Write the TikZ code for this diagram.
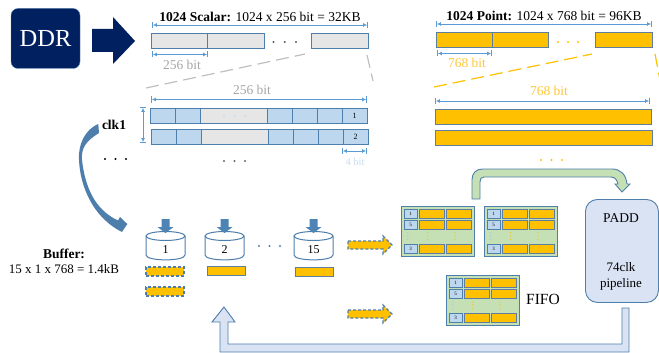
\documentclass[tikz,border=0pt]{standalone}
\usepackage{fontspec}
\setmainfont{Liberation Serif}
\usetikzlibrary{arrows.meta}
\definecolor{ddrblue}{HTML}{002060}
\definecolor{lineblue}{HTML}{4E7EAC}
\definecolor{dimblue}{HTML}{5B9BD5}
\definecolor{cellblue}{HTML}{BDD7EE}
\definecolor{cellgrey}{HTML}{E7E6E6}
\definecolor{pointorange}{HTML}{FFC000}
\definecolor{textorange}{HTML}{FFC73A}
\definecolor{textgrey}{HTML}{A6A6A6}
\definecolor{dashgrey}{HTML}{BFBFBF}
\definecolor{textblue}{HTML}{C9DCF0}
\definecolor{paddblue}{HTML}{DAE3F3}
\definecolor{fifogreen}{HTML}{C5E0B4}
\tikzset{
  cell/.style={draw=lineblue,line width=1pt,inner sep=0pt,outer sep=0pt,anchor=north west},
  greycell/.style={cell,fill=cellgrey},
  bluecell/.style={cell,fill=cellblue},
  orangecell/.style={cell,fill=pointorange,draw=lineblue!70!gray},
  dashcell/.style={cell,fill=pointorange,densely dashed,line width=1.1pt},
  dimline/.style={draw=dimblue,line width=0.9pt,{Bar[width=6pt].Latex[length=4pt,width=4pt]}-{Latex[length=4pt,width=4pt].Bar[width=6pt]}},
  blocklabel/.style={inner sep=0pt,font=\fontsize{13.5}{15}\selectfont},
  blockarrow/.style={draw=lineblue,line width=0.9pt,line join=miter},
  pics/fifoblock/.style={code={
    \node[cell,fill=fifogreen,minimum width=73pt,minimum height=50pt] (-box) at (0,0) {};
    \foreach \ro/\lab in {3/1,14/5,38/3}{
      \node[bluecell,minimum width=13pt,minimum height=9pt,font=\fontsize{5}{5}\selectfont] (-n\lab) at (3,\ro) {\lab};
      \node[orangecell,minimum width=25pt,minimum height=9pt] (-a\lab) at (18,\ro) {};
      \node[orangecell,minimum width=25pt,minimum height=9pt] (-b\lab) at (45,\ro) {};
    }
    \foreach \y in {27,30,33.5}{
      \fill[dimblue!60] (6.7,\y) circle (0.7);
      \fill[pointorange] (26.7,\y) circle (0.7);
      \fill[pointorange] (54,\y) circle (0.7);
    }
  }},
}
\begin{document}
\begin{tikzpicture}[x=1pt,y=-1pt]
\useasboundingbox (0,0) rectangle (659,353);
% source and big arrow
\node[draw=lineblue,fill=ddrblue,rounded corners=7pt,minimum width=69pt,minimum height=60pt,text=white,
  font=\fontsize{24.5}{26}\selectfont] (ddr) at (45.5,38.5) {DDR};
\fill[ddrblue] (92,29) -- (113,29) -- (113,17) -- (135,41) -- (113,64) -- (113,52) -- (92,52) -- cycle;
% scalar row
\node[blocklabel] (scalartitle) at (260,17) {\textbf{1024 Scalar:} 1024 x 256 bit = 32KB};
\node[greycell,minimum width=56pt,minimum height=15pt] (sa) at (151,34) {};
\node[greycell,minimum width=57pt,minimum height=15pt] (sb) at (207,34) {};
\node[greycell,minimum width=57pt,minimum height=15pt] (sc) at (311,34) {};
\coordinate (sl) at (152,25);
\coordinate (sr) at (368,25);
\draw[dimline] (sl) -- (sr);
\coordinate (swl) at (152,54.5);
\coordinate (swr) at (208,54.5);
\draw[dimline] (swl) -- (swr);
\node[blocklabel,text=textgrey] (swlabel) at (182,64.5) {256 bit};
\coordinate (zl1) at (146,88);
\coordinate (zl2) at (305,54);
\coordinate (zr1) at (367,55);
\coordinate (zr2) at (373,81);
\draw[dashgrey,line width=1.2pt,dash pattern=on 13pt off 6pt] (zl1) -- (zl2);
\draw[dashgrey,line width=1.2pt,dash pattern=on 13pt off 6pt] (zr1) -- (zr2);
% scalar bits
\node[blocklabel,text=textgrey] (bitlabel) at (252,90) {256 bit};
\coordinate (bl) at (151,99.5);
\coordinate (br) at (367,99.5);
\draw[dimline] (bl) -- (br);
\coordinate (bt) at (143,107);
\coordinate (bb) at (143,143);
\draw[dimline] (bt) -- (bb);
\foreach \ro/\yy/\dx in {1/108/0,2/129/1}{
  \foreach \xa/\cw in {150/25,175/25,267/25,292/25,317/25}
    \node[bluecell,minimum width=\cw pt,minimum height=15pt] (c\ro-\xa) at (\xa+\dx,\yy) {};
  \node[greycell,minimum width=67pt,minimum height=15pt] (g\ro) at (200+\dx,\yy) {};
  \node[bluecell,minimum width=25pt,minimum height=15pt,font=\fontsize{8}{9}\selectfont] (n\ro) at (342+\dx,\yy) {\ro};
}
\coordinate (fl) at (342,151);
\coordinate (fr) at (367,151);
\draw[dimline] (fl) -- (fr);
\node[inner sep=0pt,text=textblue,font=\fontsize{10.5}{12}\selectfont] (fourlabel) at (355,162) {4 bit};
% point row
\node[blocklabel] (pointtitle) at (544,15.5) {\textbf{1024 Point:} 1024 x 768 bit = 96KB};
\node[orangecell,minimum width=56pt,minimum height=15pt] (pa) at (436,33) {};
\node[orangecell,minimum width=56pt,minimum height=15pt] (pb) at (492,33) {};
\node[orangecell,minimum width=57pt,minimum height=15pt] (pc) at (595,33) {};
\coordinate (pl) at (436,24);
\coordinate (pr) at (652,24);
\draw[dimline] (pl) -- (pr);
\coordinate (pwl) at (437,53.5);
\coordinate (pwr) at (492,53.5);
\draw[dimline] (pwl) -- (pwr);
\node[blocklabel,text=textorange] (pwlabel) at (467,63) {768 bit};
\coordinate (ql1) at (434,87);
\coordinate (ql2) at (592,54);
\coordinate (qr1) at (655,54);
\coordinate (qr2) at (660,80);
\draw[pointorange,line width=1.2pt,dash pattern=on 13pt off 6pt] (ql1) -- (ql2);
\draw[pointorange,line width=1.2pt,dash pattern=on 13pt off 6pt] (qr1) -- (qr2);
\node[blocklabel,text=textorange] (qlabel) at (549,91) {768 bit};
\coordinate (ql) at (435,101);
\coordinate (qr) at (650,101);
\draw[dimline] (ql) -- (qr);
\node[orangecell,minimum width=216pt,minimum height=15pt] (qa) at (435,109) {};
\node[orangecell,minimum width=217pt,minimum height=15pt] (qb) at (435,130) {};
% the three dots of each row
\foreach \xa/\xb/\y/\cc in {273.5/296/42/black!65,558/578/42/pointorange,105/126/159/black,
  224/245/161/black!60,224/245/116/textblue,541/562/160/pointorange,259/280/246/lineblue}{
  \fill[\cc] (\xa,\y) circle (1.2);
  \fill[\cc] ({(\xa+\xb)/2},\y) circle (1.2);
  \fill[\cc] (\xb,\y) circle (1.2);
}
% clock arrow
\node[inner sep=0pt,font=\fontsize{13.5}{15}\selectfont\bfseries] (clk) at (114,125) {clk1};
\fill[lineblue] (98.3,124) .. controls (84,130) and (78,146) .. (79,160)
  .. controls (80,185) and (92,217) .. (122,232) -- (127.3,224) -- (120,217) -- (118,220.5)
  .. controls (100,212) and (86,195) .. (82,160) .. controls (81,148) and (86,141) .. (99,133) -- cycle;
% buffers
\node[inner sep=0pt,font=\fontsize{13.5}{15}\selectfont\bfseries] (buflabel) at (64,253.5) {Buffer:};
\node[inner sep=0pt,font=\fontsize{13}{15}\selectfont] (bufsize) at (64,269) {15 x 1 x 768 = 1.4kB};
\foreach \cx/\lab in {165.5/1,224.5/2,313.5/15}{
  \draw[lineblue,line width=1pt,fill=white] (\cx-19.5,236) -- (\cx-19.5,255)
    .. controls (\cx-19.5,261.5) and (\cx+19.5,261.5) .. (\cx+19.5,255) -- (\cx+19.5,236);
  \draw[lineblue,line width=1pt,fill=white] (\cx,236) ellipse [x radius=19.5,y radius=4.5];
  \fill[dimblue!85!black] (\cx-4,219) -- (\cx+4,219) -- (\cx+4,227) -- (\cx+8,227) -- (\cx,233) -- (\cx-8,227) -- (\cx-4,227) -- cycle;
  \node[inner sep=0pt,font=\fontsize{12}{14}\selectfont] (buf\lab) at (\cx,250) {\lab};
}
\node[dashcell,minimum width=38pt,minimum height=9pt] (ba) at (146,267) {};
\node[dashcell,minimum width=38pt,minimum height=9pt] (bb2) at (146,287) {};
\node[orangecell,minimum width=38pt,minimum height=9pt] (bc) at (207,266) {};
\node[orangecell,minimum width=38pt,minimum height=9pt] (bd) at (295,267) {};
\foreach \y in {245,314}
  \draw[fill=pointorange,draw=lineblue,line width=1.1pt,densely dashed,line join=miter]
    (348,\y-4) -- (383,\y-4) -- (383,\y-9) -- (392,\y) -- (383,\y+9) -- (383,\y+4) -- (348,\y+4) -- cycle;
% fifo blocks
\pic (fa) at (401,206) {fifoblock};
\pic (fb) at (484,206) {fifoblock};
\pic (fc) at (446,275) {fifoblock};
\node[inner sep=0pt,font=\fontsize{15.5}{17}\selectfont] (fifolabel) at (543,299) {FIFO};
% padd
\node[draw=lineblue,fill=paddblue,rounded corners=12pt,line width=0.9pt,minimum width=73pt,minimum height=103pt,
  inner sep=0pt,anchor=north west] (padd) at (585,199) {};
\node[inner sep=0pt,font=\fontsize{13.5}{15}\selectfont] (paddname) at (621,218) {PADD};
\node[inner sep=0pt,align=center,font=\fontsize{13}{16}\selectfont] (paddclk) at (621,276) {74clk\\pipeline};
% green and return arrows
\draw[blockarrow,fill=fifogreen] (472,199) -- (472,180) .. controls (472,173) and (476,169) .. (483,169)
  -- (612,169) .. controls (620,169) and (626,174) .. (627,184) -- (630,184) -- (622,192) -- (615,184)
  -- (618,184) .. controls (617,180) and (615,177) .. (611,177) -- (484,177) .. controls (481,177) and (480,179) .. (480,182) -- (480,199) -- cycle;
\draw[blockarrow,fill=paddblue] (622,308) -- (629,308) -- (629,352) -- (220,352) -- (220,322) -- (212,322)
  -- (224,307) -- (235,322) -- (228,322) -- (228,344) -- (622,344) -- cycle;
\end{tikzpicture}
\end{document}
